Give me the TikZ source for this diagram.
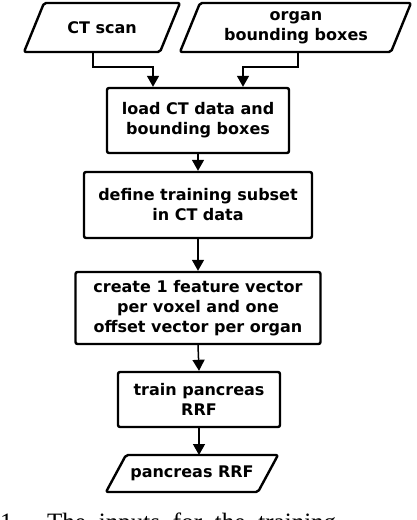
\documentclass[tikz,border=0pt]{standalone}
\usepackage{fontspec}
\setmainfont{Liberation Serif}
\newfontfamily\boxfont{DejaVu Sans}
\usetikzlibrary{arrows.meta}
\begin{document}
\begin{tikzpicture}[x=1pt,y=-1pt,
  box/.style={draw, line width=2.4pt, rounded corners=2pt, align=center,
    font=\boxfont\bfseries\fontsize{16}{20}\selectfont, inner sep=0pt},
  para/.style={draw, line width=2.4pt, rounded corners=2pt, line join=round},
  lbl/.style={align=center, inner sep=0pt,
    font=\boxfont\bfseries\fontsize{16}{20}\selectfont},
  conn/.style={line width=1.5pt, -{Triangle[width=12pt,length=11pt]}}]
\useasboundingbox (0,0) rectangle (416,520);

% input parallelograms
\draw[para] (44,3) -- (180,3) -- (160,52) -- (24,52) -- cycle;
\node[lbl] (ct) at (102,27.5) {CT scan};
\coordinate (cts) at (93,52);
\draw[para] (200,3) -- (411,3) -- (391,52) -- (180,52) -- cycle;
\node[lbl] (org) at (296,27.5) {organ\\bounding boxes};
\coordinate (orgs) at (298,52);

% process boxes
\node[box, minimum width=182pt, minimum height=65pt] (b1) at (198,120.5) {load CT data and\\bounding boxes};
\node[box, minimum width=228pt, minimum height=66pt] (b2) at (198,205) {define training subset\\in CT data};
\node[box, minimum width=245pt, minimum height=72pt] (b3) at (198,308) {create 1 feature vector\\per voxel and one\\offset vector per organ};
\node[box, minimum width=162pt, minimum height=55pt] (b4) at (199,399.5) {train pancreas\\RRF};

% output parallelogram
\draw[para] (126,455) -- (278,455) -- (258,492) -- (106,492) -- cycle;
\node[lbl] (rrf) at (192,473.5) {pancreas RRF};
\coordinate (rrfn) at (199,455);

% connectors
\draw[conn] (cts) -- ++(0,15) -| ([xshift=-45pt]b1.north);
\draw[conn] (orgs) -- ++(0,15) -| ([xshift=45pt]b1.north);
\draw[conn] (b1.south) -- (b2.north);
\draw[conn] (b2.south) -- (b3.north);
\draw[conn] (b3.south) -- (b4.north);
\draw[conn] (b4.south) -- (rrfn);

% cut-off caption
\node[anchor=base west, inner sep=0pt, font=\fontsize{25}{30}\selectfont] (cap) at (0,530.5)
  {\makebox[336pt][s]{1. The inputs for the training}};
\end{tikzpicture}
\end{document}
